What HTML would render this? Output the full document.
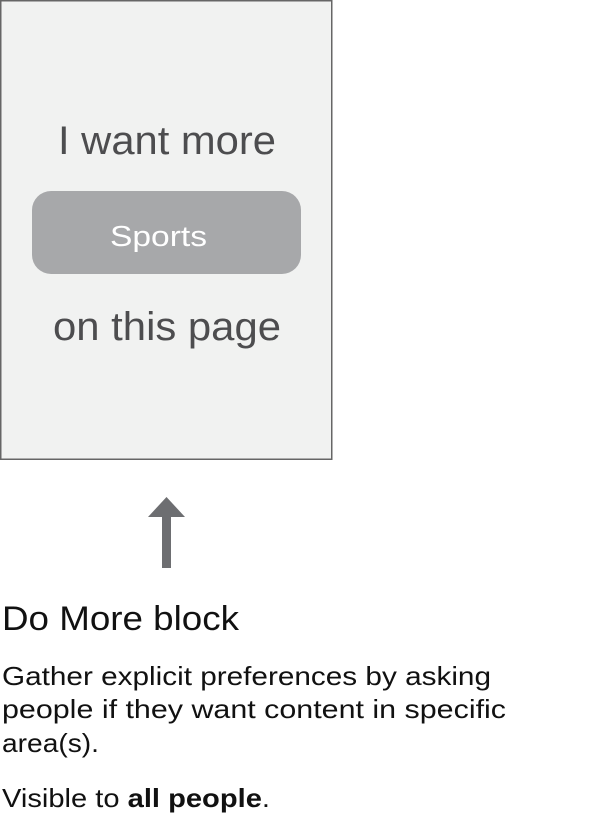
<!DOCTYPE html>
<html><head><meta charset="utf-8"><style>html,body{margin:0;padding:0;background:#fff;width:604px;height:836px;overflow:hidden}</style></head>
<body>
<svg width="604" height="836" xmlns="http://www.w3.org/2000/svg" font-family="Liberation Sans, sans-serif">
<rect x="0.75" y="0.75" width="331" height="458.5" fill="#f1f2f1" stroke="#666" stroke-width="1.5"/>
<text x="58" y="154" font-size="40" fill="#4d4d4f" textLength="218" lengthAdjust="spacingAndGlyphs">I want more</text>
<rect x="32" y="191" width="269" height="83" rx="19" fill="#a7a8aa"/>
<text x="110" y="246" font-size="29" fill="#fff" textLength="97" lengthAdjust="spacingAndGlyphs">Sports</text>
<text x="53" y="340" font-size="40" fill="#4d4d4f" textLength="228" lengthAdjust="spacingAndGlyphs">on this page</text>
<polygon points="166.5,497 148,517 185,517" fill="#6d6e71"/>
<rect x="162" y="516" width="9" height="52" fill="#6d6e71"/>
<text x="2" y="630" font-size="34" fill="#111" textLength="237" lengthAdjust="spacingAndGlyphs">Do More block</text>
<text x="2" y="685" font-size="26" fill="#111" textLength="489" lengthAdjust="spacingAndGlyphs">Gather explicit preferences by asking</text>
<text x="2" y="718" font-size="26" fill="#111" textLength="504" lengthAdjust="spacingAndGlyphs">people if they want content in specific</text>
<text x="2" y="752" font-size="26" fill="#111" textLength="97" lengthAdjust="spacingAndGlyphs">area(s).</text>
<text x="2" y="807" font-size="26" fill="#111" textLength="268" lengthAdjust="spacingAndGlyphs">Visible to <tspan font-weight="bold">all people</tspan>.</text>
</svg>
</body></html>
